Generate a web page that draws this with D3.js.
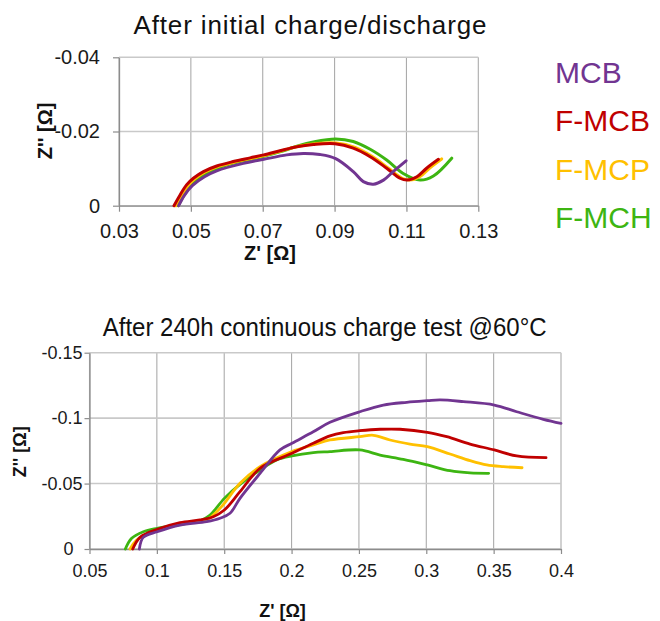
<!DOCTYPE html>
<html>
<head>
<meta charset="utf-8">
<script src="https://cdn.jsdelivr.net/npm/d3@7"></script>
<style>
  html, body { margin: 0; padding: 0; background: #fff; }
  svg { display: block; }
  text { font-family: "Liberation Sans", Arial, sans-serif; }
</style>
</head>
<body>
<svg id="chart" width="660" height="621"></svg>
<script>
// ---------- data ----------
const seriesNames = ["MCB", "F-MCB", "F-MCP", "F-MCH"];
const seriesColors = ["#713591", "#C00000", "#FFC000", "#3DB512"];

const topTitle = "After initial charge/discharge";
const bottomTitle = "After 240h continuous charge test @60°C";
const xAxisTitle = "Z' [Ω]";
const yAxisTitle = "Z'' [Ω]";

const topXTicks = [0.03, 0.05, 0.07, 0.09, 0.11, 0.13];
const topXLabels = ["0.03", "0.05", "0.07", "0.09", "0.11", "0.13"];
const topYTicks = [0, -0.02, -0.04];
const topYLabels = ["0", "-0.02", "-0.04"];

const botXTicks = [0.05, 0.1, 0.15, 0.2, 0.25, 0.3, 0.35, 0.4];
const botXLabels = ["0.05", "0.1", "0.15", "0.2", "0.25", "0.3", "0.35", "0.4"];
const botYTicks = [0, -0.05, -0.1, -0.15];
const botYLabels = ["0", "-0.05", "-0.1", "-0.15"];

// After initial charge/discharge  [Z', Z'']
const initMCB = [[0.0466,0],[0.0482,-0.0028],[0.0504,-0.0054],[0.0538,-0.0078],[0.0572,-0.0094],[0.0646,-0.0114],[0.0703,-0.0125],[0.0767,-0.0137],[0.0813,-0.0141],[0.0859,-0.0138],[0.0903,-0.0127],[0.0952,-0.0092],[0.0980,-0.0065],[0.1008,-0.0058],[0.1036,-0.0069],[0.1063,-0.0092],[0.1099,-0.0121]];
const initFMCB = [[0.0453,0],[0.0470,-0.0029],[0.0488,-0.0056],[0.0507,-0.0074],[0.0535,-0.0092],[0.0572,-0.0107],[0.0618,-0.0119],[0.0665,-0.0129],[0.0703,-0.0137],[0.0748,-0.0148],[0.0795,-0.0159],[0.0841,-0.0165],[0.0901,-0.0167],[0.0952,-0.0155],[0.0999,-0.0132],[0.1045,-0.0101],[0.1082,-0.0074],[0.1102,-0.0069],[0.1129,-0.0078],[0.1156,-0.0101],[0.1189,-0.0125]];
const initFMCP = [[0.0458,0],[0.0475,-0.0029],[0.0493,-0.0055],[0.0512,-0.0073],[0.0540,-0.0091],[0.0577,-0.0106],[0.0623,-0.0118],[0.0670,-0.0128],[0.0708,-0.0136],[0.0753,-0.0148],[0.0800,-0.0160],[0.0846,-0.0167],[0.0905,-0.0169],[0.0957,-0.0157],[0.1004,-0.0133],[0.1050,-0.0101],[0.1088,-0.0074],[0.1110,-0.0069],[0.1137,-0.0078],[0.1164,-0.0101],[0.1198,-0.0126]];
const initFMCH = [[0.0465,0],[0.0480,-0.0027],[0.0498,-0.0052],[0.0517,-0.0070],[0.0545,-0.0088],[0.0582,-0.0104],[0.0628,-0.0117],[0.0675,-0.0127],[0.0713,-0.0136],[0.0758,-0.0148],[0.0800,-0.0162],[0.0841,-0.0172],[0.0903,-0.0180],[0.0952,-0.0173],[0.0999,-0.0152],[0.1045,-0.0123],[0.1091,-0.0087],[0.1138,-0.0069],[0.1175,-0.0080],[0.1226,-0.0128]];

// After 240h continuous charge test  [Z', Z'']
const ctMCB = [[0.087,0],[0.0899,-0.0089],[0.1003,-0.0132],[0.1172,-0.0183],[0.137,-0.0209],[0.1469,-0.0235],[0.1543,-0.0273],[0.1617,-0.0387],[0.1766,-0.0578],[0.1914,-0.0757],[0.2003,-0.0808],[0.2161,-0.0896],[0.2285,-0.0968],[0.2506,-0.1049],[0.2681,-0.110],[0.2855,-0.1121],[0.3008,-0.1133],[0.3102,-0.1139],[0.3275,-0.1126],[0.3505,-0.110],[0.3671,-0.1049],[0.3869,-0.0991],[0.40,-0.096]];
const ctFMCB = [[0.0821,0],[0.0875,-0.0089],[0.1003,-0.015],[0.1172,-0.0201],[0.132,-0.0222],[0.1419,-0.0247],[0.1501,-0.0298],[0.1617,-0.0438],[0.1766,-0.0617],[0.2003,-0.0731],[0.2161,-0.0808],[0.2285,-0.0864],[0.2384,-0.0889],[0.2506,-0.0904],[0.2657,-0.0915],[0.2805,-0.0915],[0.3008,-0.0892],[0.3152,-0.0858],[0.3325,-0.0802],[0.3505,-0.0757],[0.3671,-0.0711],[0.3889,-0.0698]];
const ctFMCP = [[0.0801,0],[0.085,-0.0069],[0.1003,-0.0145],[0.1172,-0.0191],[0.137,-0.0222],[0.1444,-0.0285],[0.1501,-0.0349],[0.1617,-0.0502],[0.1766,-0.0629],[0.2003,-0.0744],[0.2161,-0.0795],[0.2285,-0.0833],[0.2506,-0.0858],[0.2607,-0.0869],[0.2731,-0.0833],[0.2879,-0.0802],[0.3008,-0.0782],[0.3176,-0.0726],[0.3325,-0.0675],[0.3449,-0.0642],[0.3572,-0.0629],[0.3711,-0.0621]];
const ctFMCH = [[0.0766,0],[0.0813,-0.0082],[0.09,-0.0132],[0.1003,-0.0158],[0.1147,-0.0183],[0.132,-0.0216],[0.1395,-0.026],[0.1501,-0.0387],[0.1617,-0.0494],[0.1766,-0.0604],[0.1889,-0.068],[0.2003,-0.0711],[0.2161,-0.0736],[0.2285,-0.0744],[0.2506,-0.0757],[0.2657,-0.0718],[0.2829,-0.0685],[0.3008,-0.0642],[0.3176,-0.0598],[0.3325,-0.0581],[0.3463,-0.0578]];

const topSeries = [initMCB, initFMCB, initFMCP, initFMCH];
const botSeries = [ctMCB, ctFMCB, ctFMCP, ctFMCH];
const drawOrder = [3, 2, 1, 0];

// ---------- drawing ----------
const svg = d3.select("#chart");
const GRID_V = "#ABABAB", GRID_H = "#C9C9C9", AXIS = "#8C8C8C";

function panel(cfg) {
  const x = d3.scaleLinear().domain(cfg.xDomain).range(cfg.xRange);
  const y = d3.scaleLinear().domain(cfg.yDomain).range(cfg.yRange);
  const g = svg.append("g");

  // gridlines
  g.append("g").selectAll("line").data(cfg.xTicks).join("line")
    .attr("x1", d => x(d)).attr("x2", d => x(d))
    .attr("y1", y.range()[0]).attr("y2", y.range()[1])
    .attr("stroke", GRID_V).attr("stroke-width", 1.1);
  g.append("g").selectAll("line").data(cfg.yTicks).join("line")
    .attr("y1", d => y(d)).attr("y2", d => y(d))
    .attr("x1", x.range()[0]).attr("x2", x.range()[1])
    .attr("stroke", GRID_H).attr("stroke-width", 1.6);

  // axes
  const xa = g.append("g").attr("transform", `translate(0,${y.range()[0]})`)
    .call(d3.axisBottom(x).tickValues(cfg.xTicks).tickFormat((d, i) => cfg.xLabels[i])
      .tickSize(cfg.tick).tickSizeOuter(0).tickPadding(cfg.xPad));
  const ya = g.append("g").attr("transform", `translate(${x.range()[0]},0)`)
    .call(d3.axisLeft(y).tickValues(cfg.yTicks).tickFormat((d, i) => cfg.yLabels[i])
      .tickSize(cfg.tick).tickSizeOuter(0).tickPadding(cfg.yPad));
  [xa, ya].forEach(a => {
    a.select(".domain").attr("stroke", AXIS).attr("stroke-width", 1.3);
    a.selectAll(".tick line").attr("stroke", AXIS).attr("stroke-width", 1.2);
    a.selectAll(".tick text").attr("fill", "#1a1a1a")
      .style("font-size", cfg.tickFont + "px").style("font-family", '"Liberation Sans", Arial, sans-serif');
  });
  if (cfg.zeroDx) ya.selectAll(".tick text").filter(d => d === 0).attr("dx", cfg.zeroDx);

  // lines
  const line = d3.line().x(d => x(d[0])).y(d => y(d[1])).curve(d3.curveCatmullRom.alpha(0.5));
  drawOrder.forEach(i => {
    g.append("path").datum(cfg.series[i]).attr("d", line)
      .attr("fill", "none").attr("stroke", seriesColors[i])
      .attr("stroke-width", cfg.lw).attr("stroke-linecap", "round").attr("stroke-linejoin", "round");
  });

  // title
  svg.append("text").attr("x", cfg.titleX).attr("y", cfg.titleY).attr("text-anchor", "middle")
    .style("font-size", cfg.titleFont + "px").attr("fill", "#111")
    .attr("textLength", cfg.titleLen).attr("lengthAdjust", cfg.titleAdjust)
    .text(cfg.title);

  // axis titles
  svg.append("text").attr("x", cfg.xtX).attr("y", cfg.xtY).attr("text-anchor", "middle")
    .style("font-size", cfg.atFont + "px").style("font-weight", "bold").attr("fill", "#111")
    .text(xAxisTitle);
  svg.append("text").attr("transform", `translate(${cfg.ytX},${cfg.ytY}) rotate(-90)`)
    .attr("text-anchor", "middle").attr("dy", "0.35em")
    .style("font-size", cfg.atFont + "px").style("font-weight", "bold").attr("fill", "#111")
    .text(yAxisTitle);
}

panel({
  xDomain: [0.03, 0.13], xRange: [119, 478.3],
  yDomain: [0, -0.04], yRange: [205.7, 57.3],
  xTicks: topXTicks, xLabels: topXLabels, yTicks: topYTicks, yLabels: topYLabels,
  tick: 6, xPad: 12, yPad: 13, tickFont: 20,
  series: topSeries, lw: 3,
  title: topTitle, titleX: 310, titleY: 34.3, titleFont: 26, titleLen: 353, titleAdjust: "spacing",
  xtX: 270, xtY: 259.5, ytX: 45, ytY: 131, atFont: 20
});

panel({
  xDomain: [0.05, 0.4], xRange: [89.5, 561],
  yDomain: [0, -0.15], yRange: [549, 352.7],
  xTicks: botXTicks, xLabels: botXLabels, yTicks: botYTicks, yLabels: botYLabels,
  tick: 5, xPad: 10, yPad: 2, tickFont: 18, zeroDx: -9,
  series: botSeries, lw: 2.8,
  title: bottomTitle, titleX: 324.7, titleY: 335.7, titleFont: 25, titleLen: 444, titleAdjust: "spacingAndGlyphs",
  xtX: 282.5, xtY: 617, ytX: 20, ytY: 451.7, atFont: 18
});

// legend
svg.append("g").selectAll("text").data(seriesNames).join("text")
  .attr("x", 555).attr("y", (d, i) => 82.7 + i * 48.5)
  .attr("fill", (d, i) => seriesColors[i])
  .style("font-size", "30px")
  .text(d => d);
</script>
</body>
</html>
